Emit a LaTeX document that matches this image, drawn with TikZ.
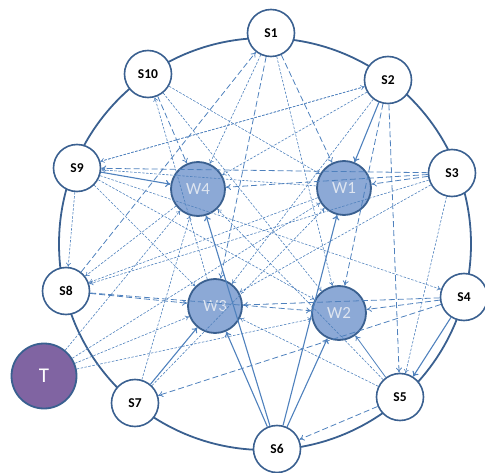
\documentclass[tikz,border=0pt]{standalone}
\usepackage{fontspec}
\setmainfont{Carlito}
\usetikzlibrary{arrows.meta}

\definecolor{ringblue}{RGB}{58,96,144}
\definecolor{edgeblue}{RGB}{79,129,189}
\definecolor{wfill}{RGB}{140,169,214}
\definecolor{wtext}{RGB}{222,229,240}
\definecolor{tfill}{RGB}{128,100,162}

\begin{document}
\begin{tikzpicture}[x=1pt,y=-1pt,
	stn/.style={circle,draw=ringblue,line width=1.6pt,fill=white,minimum size=47pt,inner sep=0pt,font=\fontsize{13.5}{15}\selectfont\bfseries},
	wnode/.style={circle,draw=ringblue,line width=1.8pt,fill=wfill,minimum size=54pt,inner sep=0pt,text=wtext,font=\fontsize{17}{19}\selectfont},
	tnode/.style={circle,draw=ringblue,line width=1.8pt,fill=tfill,minimum size=65pt,inner sep=0pt,text=white,font=\fontsize{21}{23}\selectfont},
	sarc/.style={edgeblue,line width=1.1pt,-{To[length=5pt,width=7pt]}},
	tarc/.style={edgeblue,line width=0.8pt,-{To[length=5pt,width=6pt]}},
	darc/.style={edgeblue,line width=0.8pt,dash pattern=on 6pt off 3pt,-{To[length=5pt,width=6pt]}},
	farc/.style={edgeblue,line width=0.6pt,dash pattern=on 2.5pt off 1.5pt,-{To[length=4pt,width=5pt]}}]
		\useasboundingbox (0,0) rectangle (485,473);

		% Outer ring
		\draw[ringblue,line width=1.8pt] (265,244) circle[radius=206pt];

		%% Sensors on the ring
		\node[stn] (s1) at (271,33) {S1};
		\node[stn] (s2) at (388,80) {S2};
		\node[stn] (s3) at (452,173) {S3};
		\node[stn] (s4) at (464,297) {S4};
		\node[stn] (s5) at (400,397) {S5};
		\node[stn] (s6) at (277,449) {S6};
		\node[stn] (s7) at (135,403) {S7};
		\node[stn] (s8) at (66,291) {S8};
		\node[stn] (s9) at (77,168) {S9};
		\node[stn] (s10) at (148,74) {S10};

		%% Inner nodes
		\node[wnode] (w4) at (198,189) {W4};
		\node[wnode] (w1) at (344,188) {W1};
		\node[wnode] (w3) at (215,306) {W3};
		\node[wnode] (w2) at (339,313) {W2};

		%% Outside node
		\node[tnode] (t) at (44,376) {T};

		%% Solid links
		\foreach \a/\b in {s2/w1,s9/w4,s7/w3,s6/w4,s6/w3,s6/w1,s6/w2,s4/s5}
			\draw[sarc] (\a) -- (\b);
		\draw[tarc] (s5) -- (w2);

		%% Long dashed links
		\foreach \a/\b in {s10/w4,s1/w1,s8/w3,s3/s9,s8/w2,s3/w1,s2/s5,s2/w2,s5/s6,s4/s7,s4/w3,s1/w3,s8/s1,s4/w2,s3/w4}
			\draw[darc] (\a) -- (\b);

		%% Short dashed links
		\foreach \a/\b in {s1/w4,w3/s10,s2/s9,w1/s9,s9/s8,w1/s8,w4/s8,t/w4,t/w1,t/w2,t/w3,s7/w4,s7/w1,s10/w2,s9/s4,s3/w3,s3/s8,s5/w4,s5/w3,s2/w3,s2/w4,s10/w1,s9/w3,s9/w2,s1/w2,s3/s5,s9/s2}
			\draw[farc] (\a) -- (\b);
	\end{tikzpicture}
\end{document}
